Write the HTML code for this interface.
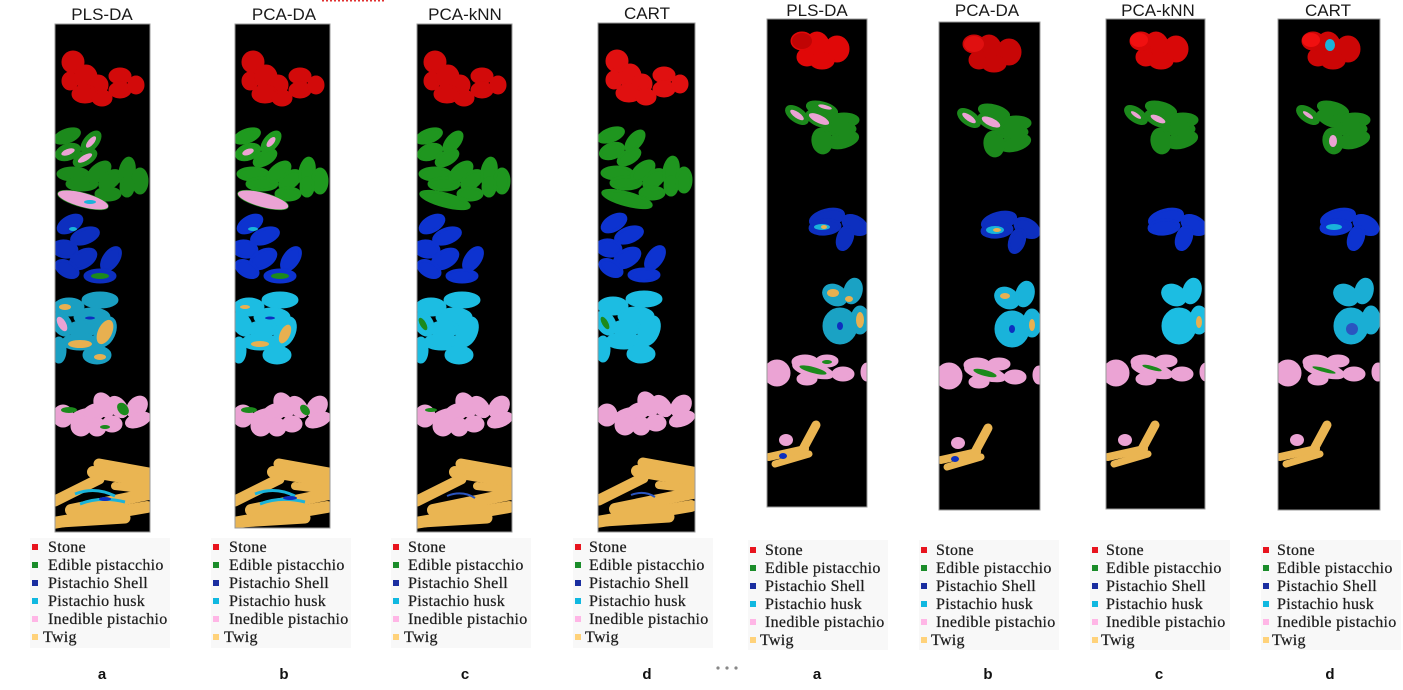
<!DOCTYPE html>
<html>
<head>
<meta charset="utf-8">
<style>
html,body{margin:0;padding:0;background:#fff;}
body{width:1403px;height:690px;overflow:hidden;}
svg{display:block;}
.t{font-family:"Liberation Sans",Arial,sans-serif;font-size:17px;fill:#1a1a1a;text-anchor:middle;}
.lg{font-family:"Liberation Serif","Times New Roman",serif;font-size:16px;letter-spacing:0.3px;fill:#1e1e1e;stroke:#1e1e1e;stroke-width:0.25px;}
.lb{font-family:"Liberation Sans",Arial,sans-serif;font-size:15px;font-weight:bold;fill:#111;text-anchor:middle;}
</style>
</head>
<body>
<svg width="1403" height="690" viewBox="0 0 1403 690" xmlns="http://www.w3.org/2000/svg">
<defs>
  <!-- LEFT GROUP SHAPES (no fill; fill set on use wrapper) -->
  <g id="Lred">
    <ellipse cx="18" cy="38" rx="10" ry="10"/>
    <ellipse cx="15" cy="57" rx="7" ry="8"/>
    <ellipse cx="31" cy="53" rx="10" ry="11"/>
    <ellipse cx="43" cy="61" rx="9" ry="9"/>
    <ellipse cx="30" cy="70" rx="12" ry="8"/>
    <ellipse cx="47" cy="74" rx="9" ry="7"/>
    <ellipse cx="65" cy="52" rx="10" ry="7"/>
    <ellipse cx="65" cy="66" rx="10" ry="7"/>
    <ellipse cx="81" cy="61" rx="7" ry="8"/>
  </g>
  <g id="Lgreen">
    <ellipse cx="12" cy="112" rx="13" ry="6" transform="rotate(-20 12 112)"/>
    <ellipse cx="36" cy="118" rx="12" ry="6" transform="rotate(-50 36 118)"/>
    <ellipse cx="13" cy="128" rx="12" ry="7" transform="rotate(-20 13 128)"/>
    <ellipse cx="30" cy="134" rx="12" ry="6" transform="rotate(-30 30 134)"/>
    <ellipse cx="18" cy="150" rx="15" ry="6"/>
    <ellipse cx="27" cy="160" rx="15" ry="6"/>
    <ellipse cx="44" cy="148" rx="13" ry="7" transform="rotate(-40 44 148)"/>
    <ellipse cx="55" cy="156" rx="12" ry="7" transform="rotate(-40 55 156)"/>
    <ellipse cx="53" cy="170" rx="12" ry="6"/>
    <ellipse cx="72" cy="148" rx="7" ry="14" transform="rotate(10 72 148)"/>
    <ellipse cx="85" cy="157" rx="7" ry="12"/>
    <ellipse cx="72" cy="163" rx="6" ry="9"/>
    <ellipse cx="28" cy="176" rx="25" ry="6" transform="rotate(15 28 176)"/>
  </g>
  <g id="Lblue">
    <ellipse cx="15" cy="200" rx="13" ry="7" transform="rotate(-30 15 200)"/>
    <ellipse cx="30" cy="212" rx="14" ry="7" transform="rotate(-20 30 212)"/>
    <ellipse cx="10" cy="225" rx="12" ry="8" transform="rotate(10 10 225)"/>
    <ellipse cx="28" cy="235" rx="14" ry="8" transform="rotate(-30 28 235)"/>
    <ellipse cx="56" cy="235" rx="7" ry="13" transform="rotate(35 56 235)"/>
    <ellipse cx="12" cy="245" rx="12" ry="7" transform="rotate(30 12 245)"/>
    <ellipse cx="45" cy="252" rx="15" ry="6"/>
  </g>
  <g id="Lcyan">
    <ellipse cx="45" cy="276" rx="17" ry="7"/>
    <ellipse cx="14" cy="283" rx="14" ry="8"/>
    <ellipse cx="37" cy="293" rx="17" ry="8"/>
    <ellipse cx="7" cy="300" rx="8" ry="12" transform="rotate(-30 7 300)"/>
    <ellipse cx="27" cy="305" rx="14" ry="7"/>
    <ellipse cx="50" cy="308" rx="9" ry="15" transform="rotate(25 50 308)"/>
    <ellipse cx="25" cy="318" rx="17" ry="7"/>
    <ellipse cx="4" cy="326" rx="6" ry="12"/>
    <ellipse cx="42" cy="331" rx="13" ry="8"/>
  </g>
  <g id="Lpink">
    <ellipse cx="8" cy="392" rx="9" ry="10"/>
    <ellipse cx="30" cy="392" rx="15" ry="6" transform="rotate(-15 30 392)"/>
    <ellipse cx="40" cy="388" rx="12" ry="7" transform="rotate(-20 40 388)"/>
    <ellipse cx="49" cy="381" rx="8" ry="12" transform="rotate(-30 49 381)"/>
    <ellipse cx="63" cy="383" rx="7" ry="11" transform="rotate(-40 63 383)"/>
    <ellipse cx="82" cy="383" rx="8" ry="11" transform="rotate(40 82 383)"/>
    <ellipse cx="83" cy="396" rx="12" ry="6" transform="rotate(-20 83 396)"/>
    <ellipse cx="26" cy="402" rx="9" ry="9"/>
    <ellipse cx="42" cy="403" rx="8" ry="8"/>
    <ellipse cx="57" cy="400" rx="9" ry="7"/>
  </g>
  <g id="Ltwig" stroke="#eab552" stroke-linecap="round" fill="none">
    <line x1="44" y1="440" x2="94" y2="449" stroke-width="11"/>
    <line x1="38" y1="448" x2="96" y2="458" stroke-width="12"/>
    <line x1="0" y1="477" x2="44" y2="455" stroke-width="11"/>
    <line x1="16" y1="486" x2="94" y2="470" stroke-width="12"/>
    <line x1="-2" y1="499" x2="92" y2="483" stroke-width="12"/>
    <line x1="5" y1="498" x2="70" y2="494" stroke-width="11"/>
    <line x1="60" y1="462" x2="94" y2="466" stroke-width="8"/>
  </g>

  <!-- RIGHT GROUP SHAPES -->
  <g id="Rred">
    <ellipse cx="50" cy="30" rx="12" ry="16"/>
    <ellipse cx="70" cy="30" rx="11" ry="12"/>
    <ellipse cx="40" cy="38" rx="9" ry="8"/>
    <ellipse cx="55" cy="42" rx="11" ry="7"/>
    <ellipse cx="35" cy="22" rx="10" ry="8"/>
  </g>
  <g id="Rgreen">
    <ellipse cx="30" cy="96" rx="12" ry="6" transform="rotate(35 30 96)"/>
    <ellipse cx="55" cy="90" rx="15" ry="6" transform="rotate(15 55 90)"/>
    <ellipse cx="52" cy="100" rx="13" ry="6" transform="rotate(25 52 100)"/>
    <ellipse cx="77" cy="101" rx="14" ry="6"/>
    <ellipse cx="73" cy="110" rx="15" ry="6"/>
    <ellipse cx="76" cy="121" rx="15" ry="7" transform="rotate(-15 76 121)"/>
    <ellipse cx="55" cy="122" rx="9" ry="12" transform="rotate(-10 55 122)"/>
  </g>
  <g id="Rblue">
    <ellipse cx="60" cy="199" rx="17" ry="8" transform="rotate(-15 60 199)"/>
    <ellipse cx="58" cy="208" rx="15" ry="7" transform="rotate(-5 58 208)"/>
    <ellipse cx="88" cy="206" rx="13" ry="8" transform="rotate(30 88 206)"/>
    <ellipse cx="78" cy="219" rx="7" ry="12" transform="rotate(20 78 219)"/>
  </g>
  <g id="Rcyan">
    <ellipse cx="68" cy="276" rx="12" ry="9" transform="rotate(30 68 276)"/>
    <ellipse cx="86" cy="272" rx="8" ry="12" transform="rotate(15 86 272)"/>
    <ellipse cx="73" cy="307" rx="16" ry="17"/>
    <ellipse cx="93" cy="301" rx="8" ry="13"/>
  </g>
  <g id="Rpink">
    <ellipse cx="10" cy="354" rx="12" ry="12"/>
    <ellipse cx="38" cy="343" rx="12" ry="6"/>
    <ellipse cx="46" cy="351" rx="20" ry="6" transform="rotate(15 46 351)"/>
    <ellipse cx="60" cy="342" rx="10" ry="5"/>
    <ellipse cx="40" cy="360" rx="9" ry="5"/>
    <ellipse cx="76" cy="355" rx="10" ry="6"/>
    <ellipse cx="100" cy="353" rx="5" ry="8"/>
  </g>
  <g id="Rtwig">
    <ellipse cx="19" cy="421" rx="7" ry="6" fill="#eba3d4"/>
    <g stroke="#eab552" stroke-linecap="round" fill="none">
      <line x1="2" y1="438" x2="38" y2="430" stroke-width="8"/>
      <line x1="8" y1="445" x2="42" y2="435" stroke-width="7"/>
      <line x1="35" y1="432" x2="49" y2="406" stroke-width="9"/>
    </g>
  </g>

  <clipPath id="cL1"><rect x="55" y="24" width="95" height="508"/></clipPath>
  <clipPath id="cL2"><rect x="235" y="24" width="95" height="504"/></clipPath>
  <clipPath id="cL3"><rect x="417" y="24" width="95" height="508"/></clipPath>
  <clipPath id="cL4"><rect x="598" y="23" width="97" height="509"/></clipPath>
  <clipPath id="cR1"><rect x="767" y="19" width="100" height="488"/></clipPath>
  <clipPath id="cR2"><rect x="939" y="22" width="101" height="488"/></clipPath>
  <clipPath id="cR3"><rect x="1106" y="19" width="99" height="490"/></clipPath>
  <clipPath id="cR4"><rect x="1278" y="19" width="102" height="491"/></clipPath>
</defs>

<!-- red dotted line at top -->
<line x1="322" y1="0.8" x2="385" y2="0.8" stroke="#e03030" stroke-width="1.5" stroke-dasharray="2 2"/>

<!-- Titles -->
<text class="t" x="102" y="20">PLS-DA</text>
<text class="t" x="284" y="20">PCA-DA</text>
<text class="t" x="465" y="20">PCA-kNN</text>
<text class="t" x="647" y="19">CART</text>
<text class="t" x="817" y="16">PLS-DA</text>
<text class="t" x="987" y="16">PCA-DA</text>
<text class="t" x="1158" y="16">PCA-kNN</text>
<text class="t" x="1328" y="16">CART</text>

<!-- ===== LEFT PANEL 1 : PLS-DA ===== -->
<g clip-path="url(#cL1)">
  <rect x="55" y="24" width="95" height="508" fill="#000"/>
  <g transform="translate(55,24)">
    <g fill="#d20a0a" stroke="#d20a0a" stroke-width="3"><use href="#Lred"/></g>
    <g fill="#1c8a1c" stroke="#1c8a1c" stroke-width="3"><use href="#Lgreen"/></g>
    <g fill="#0d2fbf" stroke="#0d2fbf" stroke-width="3"><use href="#Lblue"/></g>
    <g fill="#1a9fc2" stroke="#1a9fc2" stroke-width="3"><use href="#Lcyan"/></g>
    <g fill="#eba3d4" stroke="#eba3d4" stroke-width="3"><use href="#Lpink"/></g>
    <use href="#Ltwig"/>
    <g fill="#eba3d4">
      <ellipse cx="36" cy="118" rx="7" ry="3" transform="rotate(-50 36 118)"/>
      <ellipse cx="13" cy="128" rx="7" ry="3" transform="rotate(-20 13 128)"/>
      <ellipse cx="30" cy="134" rx="8" ry="3" transform="rotate(-30 30 134)"/>
      <ellipse cx="28" cy="176" rx="26" ry="7" transform="rotate(15 28 176)"/>
    </g>
    <ellipse cx="35" cy="178" rx="6" ry="2" fill="#19b3da"/>
    <ellipse cx="45" cy="252" rx="9" ry="3" fill="#1c8a1c"/>
    <ellipse cx="18" cy="205" rx="4" ry="2" fill="#19b3da"/>
    <g fill="#e8b050">
      <ellipse cx="50" cy="308" rx="7" ry="13" transform="rotate(25 50 308)"/>
      <ellipse cx="25" cy="320" rx="12" ry="4"/>
      <ellipse cx="10" cy="283" rx="6" ry="3"/>
      <ellipse cx="45" cy="333" rx="6" ry="3"/>
    </g>
    <ellipse cx="7" cy="300" rx="4" ry="8" transform="rotate(-30 7 300)" fill="#eba3d4"/>
    <ellipse cx="35" cy="294" rx="5" ry="1.5" fill="#0d2fbf"/>
    <g fill="#1c8a1c">
      <ellipse cx="14" cy="386" rx="8" ry="3"/>
      <ellipse cx="68" cy="385" rx="5" ry="7" transform="rotate(-40 68 385)"/>
      <ellipse cx="50" cy="403" rx="5" ry="2"/>
    </g>
    <g stroke="#19b3da" stroke-width="3" fill="none">
      <path d="M20 470 Q40 462 60 472"/>
      <path d="M25 480 Q45 472 70 478"/>
    </g>
    <ellipse cx="50" cy="475" rx="6" ry="2" fill="#0d2fbf"/>
  </g>
</g>
<rect x="55" y="24" width="95" height="508" fill="none" stroke="#999" stroke-width="1"/>

<!-- ===== LEFT PANEL 2 : PCA-DA ===== -->
<g clip-path="url(#cL2)">
  <rect x="235" y="24" width="95" height="504" fill="#000"/>
  <g transform="translate(235,24)">
    <g fill="#d20a0a" stroke="#d20a0a" stroke-width="3"><use href="#Lred"/></g>
    <g fill="#1f9a1f" stroke="#1f9a1f" stroke-width="3"><use href="#Lgreen"/></g>
    <g fill="#0d33d0" stroke="#0d33d0" stroke-width="3"><use href="#Lblue"/></g>
    <g fill="#1cbde2" stroke="#1cbde2" stroke-width="3"><use href="#Lcyan"/></g>
    <g fill="#eba3d4" stroke="#eba3d4" stroke-width="3"><use href="#Lpink"/></g>
    <use href="#Ltwig"/>
    <g fill="#eba3d4">
      <ellipse cx="36" cy="118" rx="6" ry="3" transform="rotate(-50 36 118)"/>
      <ellipse cx="13" cy="128" rx="6" ry="3" transform="rotate(-20 13 128)"/>
      <ellipse cx="28" cy="176" rx="26" ry="7" transform="rotate(15 28 176)"/>
    </g>
    <ellipse cx="45" cy="252" rx="9" ry="3" fill="#1c8a1c"/>
    <ellipse cx="18" cy="205" rx="5" ry="2" fill="#19b3da"/>
    <g fill="#e8b050">
      <ellipse cx="50" cy="310" rx="5" ry="10" transform="rotate(25 50 310)"/>
      <ellipse cx="25" cy="320" rx="9" ry="3"/>
      <ellipse cx="10" cy="283" rx="5" ry="2"/>
    </g>
    <ellipse cx="35" cy="294" rx="5" ry="1.5" fill="#0d2fbf"/>
    <g fill="#1c8a1c">
      <ellipse cx="14" cy="386" rx="8" ry="3"/>
      <ellipse cx="70" cy="386" rx="4" ry="6" transform="rotate(-40 70 386)"/>
    </g>
    <g stroke="#19b3da" stroke-width="3" fill="none">
      <path d="M20 470 Q40 462 60 472"/>
      <path d="M25 480 Q45 472 70 478"/>
    </g>
    <ellipse cx="55" cy="474" rx="7" ry="2" fill="#0d2fbf"/>
  </g>
</g>
<rect x="235" y="24" width="95" height="504" fill="none" stroke="#999" stroke-width="1"/>

<!-- ===== LEFT PANEL 3 : PCA-kNN ===== -->
<g clip-path="url(#cL3)">
  <rect x="417" y="24" width="95" height="508" fill="#000"/>
  <g transform="translate(417,24)">
    <g fill="#d20a0a" stroke="#d20a0a" stroke-width="3"><use href="#Lred"/></g>
    <g fill="#1f961f" stroke="#1f961f" stroke-width="3"><use href="#Lgreen"/></g>
    <g fill="#0d33d0" stroke="#0d33d0" stroke-width="3"><use href="#Lblue"/></g>
    <g fill="#1cbde2" stroke="#1cbde2" stroke-width="3"><use href="#Lcyan"/></g>
    <g fill="#eba3d4" stroke="#eba3d4" stroke-width="3"><use href="#Lpink"/></g>
    <use href="#Ltwig"/>
    <ellipse cx="6" cy="300" rx="3" ry="7" transform="rotate(-30 6 300)" fill="#1c8a1c"/>
    <path d="M30 472 Q45 466 58 474" stroke="#2a55c0" stroke-width="2" fill="none"/>
    <ellipse cx="14" cy="386" rx="6" ry="2" fill="#1c8a1c"/>
  </g>
</g>
<rect x="417" y="24" width="95" height="508" fill="none" stroke="#999" stroke-width="1"/>

<!-- ===== LEFT PANEL 4 : CART ===== -->
<g clip-path="url(#cL4)">
  <rect x="598" y="23" width="97" height="509" fill="#000"/>
  <g transform="translate(599,23)">
    <g fill="#e01010" stroke="#e01010" stroke-width="3"><use href="#Lred"/></g>
    <g fill="#1f961f" stroke="#1f961f" stroke-width="3"><use href="#Lgreen"/></g>
    <g fill="#0d33d0" stroke="#0d33d0" stroke-width="3"><use href="#Lblue"/></g>
    <g fill="#1cbde2" stroke="#1cbde2" stroke-width="3"><use href="#Lcyan"/></g>
    <g fill="#eba3d4" stroke="#eba3d4" stroke-width="3"><use href="#Lpink"/></g>
    <use href="#Ltwig"/>
    <ellipse cx="6" cy="300" rx="3" ry="7" transform="rotate(-30 6 300)" fill="#1c8a1c"/>
    <path d="M32 472 Q45 467 56 474" stroke="#2a55c0" stroke-width="2" fill="none"/>
  </g>
</g>
<rect x="598" y="23" width="97" height="509" fill="none" stroke="#999" stroke-width="1"/>

<!-- ===== RIGHT PANEL 1 : PLS-DA ===== -->
<g clip-path="url(#cR1)">
  <rect x="767" y="19" width="100" height="488" fill="#000"/>
  <g transform="translate(767,19)">
    <g fill="#e00808" stroke="#e00808" stroke-width="3"><use href="#Rred"/></g>
    <ellipse cx="35" cy="22" rx="10" ry="8" fill="#c00404"/>
    <g fill="#1c8a1c" stroke="#1c8a1c" stroke-width="3"><use href="#Rgreen"/></g>
    <g fill="#0d2fbf" stroke="#0d2fbf" stroke-width="3"><use href="#Rblue"/></g>
    <g fill="#1aa2c4" stroke="#1aa2c4" stroke-width="3"><use href="#Rcyan"/></g>
    <g fill="#eba3d4" stroke="#eba3d4" stroke-width="3"><use href="#Rpink"/></g>
    <use href="#Rtwig"/>
    <g fill="#eba3d4">
      <ellipse cx="30" cy="96" rx="8" ry="3" transform="rotate(35 30 96)"/>
      <ellipse cx="52" cy="100" rx="11" ry="4" transform="rotate(25 52 100)"/>
      <ellipse cx="58" cy="88" rx="7" ry="2" transform="rotate(15 58 88)"/>
    </g>
    <ellipse cx="55" cy="208" rx="8" ry="3" fill="#19b3da"/>
    <ellipse cx="57" cy="208" rx="3" ry="2" fill="#e8b050"/>
    <g fill="#e8b050">
      <ellipse cx="66" cy="274" rx="6" ry="4"/>
      <ellipse cx="93" cy="301" rx="4" ry="8"/>
      <ellipse cx="82" cy="280" rx="4" ry="3"/>
    </g>
    <ellipse cx="73" cy="307" rx="3" ry="4" fill="#0d2fbf"/>
    <g fill="#1c8a1c">
      <ellipse cx="46" cy="351" rx="14" ry="3" transform="rotate(15 46 351)"/>
      <ellipse cx="60" cy="343" rx="5" ry="2"/>
    </g>
    <ellipse cx="16" cy="437" rx="4" ry="3" fill="#0d2fbf"/>
  </g>
</g>
<rect x="767" y="19" width="100" height="488" fill="none" stroke="#999" stroke-width="1"/>

<!-- ===== RIGHT PANEL 2 : PCA-DA ===== -->
<g clip-path="url(#cR2)">
  <rect x="939" y="22" width="101" height="488" fill="#000"/>
  <g transform="translate(939,22)">
    <g fill="#c80606" stroke="#c80606" stroke-width="3"><use href="#Rred"/></g>
    <ellipse cx="35" cy="22" rx="10" ry="8" fill="#e01010"/>
    <g fill="#1c8a1c" stroke="#1c8a1c" stroke-width="3"><use href="#Rgreen"/></g>
    <g fill="#0d2fbf" stroke="#0d2fbf" stroke-width="3"><use href="#Rblue"/></g>
    <g fill="#19b3da" stroke="#19b3da" stroke-width="3"><use href="#Rcyan"/></g>
    <g fill="#eba3d4" stroke="#eba3d4" stroke-width="3"><use href="#Rpink"/></g>
    <use href="#Rtwig"/>
    <g fill="#eba3d4">
      <ellipse cx="30" cy="96" rx="8" ry="3" transform="rotate(35 30 96)"/>
      <ellipse cx="52" cy="100" rx="10" ry="4" transform="rotate(25 52 100)"/>
    </g>
    <ellipse cx="56" cy="208" rx="9" ry="4" fill="#19b3da"/>
    <ellipse cx="58" cy="208" rx="4" ry="2" fill="#e8b050"/>
    <g fill="#e8b050">
      <ellipse cx="66" cy="274" rx="5" ry="3"/>
      <ellipse cx="93" cy="303" rx="3" ry="6"/>
    </g>
    <ellipse cx="73" cy="307" rx="3" ry="4" fill="#0d2fbf"/>
    <ellipse cx="46" cy="351" rx="12" ry="3" transform="rotate(15 46 351)" fill="#1c8a1c"/>
    <ellipse cx="16" cy="437" rx="4" ry="3" fill="#0d2fbf"/>
  </g>
</g>
<rect x="939" y="22" width="101" height="488" fill="none" stroke="#999" stroke-width="1"/>

<!-- ===== RIGHT PANEL 3 : PCA-kNN ===== -->
<g clip-path="url(#cR3)">
  <rect x="1106" y="19" width="99" height="490" fill="#000"/>
  <g transform="translate(1106,19)">
    <g fill="#d80808" stroke="#d80808" stroke-width="3"><use href="#Rred"/></g>
    <ellipse cx="33" cy="21" rx="9" ry="7" fill="#f01010"/>
    <g fill="#1c8a1c" stroke="#1c8a1c" stroke-width="3"><use href="#Rgreen"/></g>
    <g fill="#0d33d0" stroke="#0d33d0" stroke-width="3"><use href="#Rblue"/></g>
    <g fill="#1cbde2" stroke="#1cbde2" stroke-width="3"><use href="#Rcyan"/></g>
    <g fill="#eba3d4" stroke="#eba3d4" stroke-width="3"><use href="#Rpink"/></g>
    <use href="#Rtwig"/>
    <g fill="#eba3d4">
      <ellipse cx="30" cy="96" rx="6" ry="2" transform="rotate(35 30 96)"/>
      <ellipse cx="52" cy="100" rx="8" ry="3" transform="rotate(25 52 100)"/>
    </g>
    <ellipse cx="93" cy="303" rx="3" ry="6" fill="#e8b050"/>
    <ellipse cx="46" cy="349" rx="10" ry="2" transform="rotate(15 46 349)" fill="#1c8a1c"/>
  </g>
</g>
<rect x="1106" y="19" width="99" height="490" fill="none" stroke="#999" stroke-width="1"/>

<!-- ===== RIGHT PANEL 4 : CART ===== -->
<g clip-path="url(#cR4)">
  <rect x="1278" y="19" width="102" height="491" fill="#000"/>
  <g transform="translate(1278,19)">
    <g fill="#cc0606" stroke="#cc0606" stroke-width="3"><use href="#Rred"/></g>
    <ellipse cx="33" cy="21" rx="9" ry="7" fill="#f01010"/>
    <g fill="#1c8a1c" stroke="#1c8a1c" stroke-width="3"><use href="#Rgreen"/></g>
    <g fill="#0d33d0" stroke="#0d33d0" stroke-width="3"><use href="#Rblue"/></g>
    <g fill="#1aaed4" stroke="#1aaed4" stroke-width="3"><use href="#Rcyan"/></g>
    <g fill="#eba3d4" stroke="#eba3d4" stroke-width="3"><use href="#Rpink"/></g>
    <use href="#Rtwig"/>
    <ellipse cx="52" cy="26" rx="5" ry="6" fill="#19b3da"/>
    <g fill="#eba3d4">
      <ellipse cx="30" cy="96" rx="6" ry="2" transform="rotate(35 30 96)"/>
      <ellipse cx="55" cy="122" rx="4" ry="6"/>
    </g>
    <ellipse cx="56" cy="208" rx="8" ry="3" fill="#19b3da"/>
    <ellipse cx="74" cy="310" rx="6" ry="6" fill="#2a55c0"/>
    <ellipse cx="46" cy="351" rx="12" ry="2" transform="rotate(15 46 351)" fill="#1c8a1c"/>
  </g>
</g>
<rect x="1278" y="19" width="102" height="491" fill="none" stroke="#999" stroke-width="1"/>

<!-- ===== LEGEND BACKGROUNDS ===== -->
<g fill="#f8f8f8">
  <rect x="30" y="538" width="140" height="110"/>
  <rect x="211" y="538" width="140" height="110"/>
  <rect x="391" y="538" width="140" height="110"/>
  <rect x="573" y="538" width="140" height="110"/>
  <rect x="748" y="540" width="140" height="110"/>
  <rect x="919" y="540" width="140" height="110"/>
  <rect x="1090" y="540" width="140" height="110"/>
  <rect x="1261" y="540" width="140" height="110"/>
</g>

<!-- ===== LEGENDS (left group) ===== -->
<g>
  <rect x="32" y="544" width="6" height="6" fill="#e8141e"/>
  <rect x="32" y="562" width="6" height="6" fill="#1a8c2a"/>
  <rect x="32" y="580" width="6" height="6" fill="#1a2ea0"/>
  <rect x="32" y="598" width="6" height="6" fill="#10b8e0"/>
  <rect x="32" y="616" width="6" height="6" fill="#ffb6e6"/>
  <rect x="32" y="634" width="6" height="6" fill="#ffd27a"/>
  <text class="lg" x="48" y="552">Stone</text>
  <text class="lg" x="48" y="570">Edible pistacchio</text>
  <text class="lg" x="48" y="588">Pistachio Shell</text>
  <text class="lg" x="48" y="606">Pistachio husk</text>
  <text class="lg" x="48" y="624">Inedible pistachio</text>
  <text class="lg" x="43" y="642">Twig</text>

  <rect x="213" y="544" width="6" height="6" fill="#e8141e"/>
  <rect x="213" y="562" width="6" height="6" fill="#1a8c2a"/>
  <rect x="213" y="580" width="6" height="6" fill="#1a2ea0"/>
  <rect x="213" y="598" width="6" height="6" fill="#10b8e0"/>
  <rect x="213" y="616" width="6" height="6" fill="#ffb6e6"/>
  <rect x="213" y="634" width="6" height="6" fill="#ffd27a"/>
  <text class="lg" x="229" y="552">Stone</text>
  <text class="lg" x="229" y="570">Edible pistacchio</text>
  <text class="lg" x="229" y="588">Pistachio Shell</text>
  <text class="lg" x="229" y="606">Pistachio husk</text>
  <text class="lg" x="229" y="624">Inedible pistachio</text>
  <text class="lg" x="224" y="642">Twig</text>

  <rect x="393" y="544" width="6" height="6" fill="#e8141e"/>
  <rect x="393" y="562" width="6" height="6" fill="#1a8c2a"/>
  <rect x="393" y="580" width="6" height="6" fill="#1a2ea0"/>
  <rect x="393" y="598" width="6" height="6" fill="#10b8e0"/>
  <rect x="393" y="616" width="6" height="6" fill="#ffb6e6"/>
  <rect x="393" y="634" width="6" height="6" fill="#ffd27a"/>
  <text class="lg" x="408" y="552">Stone</text>
  <text class="lg" x="408" y="570">Edible pistacchio</text>
  <text class="lg" x="408" y="588">Pistachio Shell</text>
  <text class="lg" x="408" y="606">Pistachio husk</text>
  <text class="lg" x="408" y="624">Inedible pistachio</text>
  <text class="lg" x="404" y="642">Twig</text>

  <rect x="575" y="544" width="6" height="6" fill="#e8141e"/>
  <rect x="575" y="562" width="6" height="6" fill="#1a8c2a"/>
  <rect x="575" y="580" width="6" height="6" fill="#1a2ea0"/>
  <rect x="575" y="598" width="6" height="6" fill="#10b8e0"/>
  <rect x="575" y="616" width="6" height="6" fill="#ffb6e6"/>
  <rect x="575" y="634" width="6" height="6" fill="#ffd27a"/>
  <text class="lg" x="589" y="552">Stone</text>
  <text class="lg" x="589" y="570">Edible pistacchio</text>
  <text class="lg" x="589" y="588">Pistachio Shell</text>
  <text class="lg" x="589" y="606">Pistachio husk</text>
  <text class="lg" x="589" y="624">Inedible pistachio</text>
  <text class="lg" x="585" y="642">Twig</text>
</g>

<!-- ===== LEGENDS (right group) ===== -->
<g>
  <rect x="750" y="547" width="6" height="6" fill="#e8141e"/>
  <rect x="750" y="565" width="6" height="6" fill="#1a8c2a"/>
  <rect x="750" y="583" width="6" height="6" fill="#1a2ea0"/>
  <rect x="750" y="601" width="6" height="6" fill="#10b8e0"/>
  <rect x="750" y="619" width="6" height="6" fill="#ffb6e6"/>
  <rect x="750" y="637" width="6" height="6" fill="#ffd27a"/>
  <text class="lg" x="765" y="555">Stone</text>
  <text class="lg" x="765" y="573">Edible pistacchio</text>
  <text class="lg" x="765" y="591">Pistachio Shell</text>
  <text class="lg" x="765" y="609">Pistachio husk</text>
  <text class="lg" x="765" y="627">Inedible pistachio</text>
  <text class="lg" x="760" y="645">Twig</text>

  <rect x="921" y="547" width="6" height="6" fill="#e8141e"/>
  <rect x="921" y="565" width="6" height="6" fill="#1a8c2a"/>
  <rect x="921" y="583" width="6" height="6" fill="#1a2ea0"/>
  <rect x="921" y="601" width="6" height="6" fill="#10b8e0"/>
  <rect x="921" y="619" width="6" height="6" fill="#ffb6e6"/>
  <rect x="921" y="637" width="6" height="6" fill="#ffd27a"/>
  <text class="lg" x="936" y="555">Stone</text>
  <text class="lg" x="936" y="573">Edible pistacchio</text>
  <text class="lg" x="936" y="591">Pistachio Shell</text>
  <text class="lg" x="936" y="609">Pistachio husk</text>
  <text class="lg" x="936" y="627">Inedible pistachio</text>
  <text class="lg" x="931" y="645">Twig</text>

  <rect x="1092" y="547" width="6" height="6" fill="#e8141e"/>
  <rect x="1092" y="565" width="6" height="6" fill="#1a8c2a"/>
  <rect x="1092" y="583" width="6" height="6" fill="#1a2ea0"/>
  <rect x="1092" y="601" width="6" height="6" fill="#10b8e0"/>
  <rect x="1092" y="619" width="6" height="6" fill="#ffb6e6"/>
  <rect x="1092" y="637" width="6" height="6" fill="#ffd27a"/>
  <text class="lg" x="1106" y="555">Stone</text>
  <text class="lg" x="1106" y="573">Edible pistacchio</text>
  <text class="lg" x="1106" y="591">Pistachio Shell</text>
  <text class="lg" x="1106" y="609">Pistachio husk</text>
  <text class="lg" x="1106" y="627">Inedible pistachio</text>
  <text class="lg" x="1101" y="645">Twig</text>

  <rect x="1263" y="547" width="6" height="6" fill="#e8141e"/>
  <rect x="1263" y="565" width="6" height="6" fill="#1a8c2a"/>
  <rect x="1263" y="583" width="6" height="6" fill="#1a2ea0"/>
  <rect x="1263" y="601" width="6" height="6" fill="#10b8e0"/>
  <rect x="1263" y="619" width="6" height="6" fill="#ffb6e6"/>
  <rect x="1263" y="637" width="6" height="6" fill="#ffd27a"/>
  <text class="lg" x="1277" y="555">Stone</text>
  <text class="lg" x="1277" y="573">Edible pistacchio</text>
  <text class="lg" x="1277" y="591">Pistachio Shell</text>
  <text class="lg" x="1277" y="609">Pistachio husk</text>
  <text class="lg" x="1277" y="627">Inedible pistachio</text>
  <text class="lg" x="1272" y="645">Twig</text>
</g>

<!-- sub-labels -->
<text class="lb" x="102" y="679">a</text>
<text class="lb" x="284" y="679">b</text>
<text class="lb" x="465" y="679">c</text>
<text class="lb" x="647" y="679">d</text>
<text class="lb" x="817" y="679">a</text>
<text class="lb" x="988" y="679">b</text>
<text class="lb" x="1159" y="679">c</text>
<text class="lb" x="1330" y="679">d</text>

<!-- ellipsis dots -->
<g fill="#888">
  <circle cx="718" cy="668" r="1.6"/>
  <circle cx="727" cy="668" r="1.6"/>
  <circle cx="736" cy="668" r="1.6"/>
</g>
</svg>
</body>
</html>
